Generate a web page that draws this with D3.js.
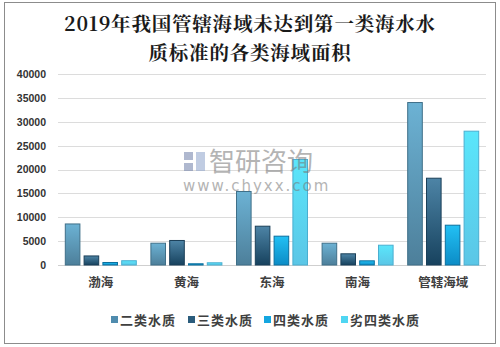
<!DOCTYPE html>
<html><head><meta charset="utf-8">
<script src="https://cdn.jsdelivr.net/npm/d3@7/dist/d3.min.js"></script>
<style>
body{margin:0;background:#fff;}
svg{display:block;font-family:"Noto Sans CJK SC","Noto Sans",sans-serif;}
</style></head>
<body><svg id="c" width="500" height="347"></svg>
<script>
const categories = ["渤海","黄海","东海","南海","管辖海域"];
const seriesNames = ["二类水质","三类水质","四类水质","劣四类水质"];
const s2 = [8700, 4670, 15500, 4670, 34130];
const s3 = [2000, 5240, 8230, 2450, 18280];
const s4 = [630, 360, 6140, 980, 8440];
const s5 = [1000, 570, 22200, 4250, 28130];
const yTicks = [0,5000,10000,15000,20000,25000,30000,35000,40000];
const titleLines = ["2019年我国管辖海域未达到第一类海水水","质标准的各类海域面积"];

const series = [s2,s3,s4,s5];
const colors = [
  {top:"#6cb2d4", bot:"#4d7f9a", stroke:"#3f6f88", legend:"#4f8cae"},
  {top:"#4d84a6", bot:"#17425e", stroke:"#1b3f58", legend:"#2b5c7c"},
  {top:"#22c0f4", bot:"#0c8cc6", stroke:"#0b6f9e", legend:"#14a6e0"},
  {top:"#5ae6fb", bot:"#5bc6e6", stroke:"#4aaed0", legend:"#4fd6f2"}
];

const svg = d3.select("#c");
const defs = svg.append("defs");
colors.forEach((c,i)=>{
  const g = defs.append("linearGradient").attr("id","g"+i).attr("x1",0).attr("y1",0).attr("x2",0).attr("y2",1);
  g.append("stop").attr("offset","0%").attr("stop-color",c.top);
  g.append("stop").attr("offset","100%").attr("stop-color",c.bot);
});

// border
svg.append("rect").attr("x",4.5).attr("y",2.5).attr("width",491).attr("height",341)
  .attr("fill","#fff").attr("stroke","#8c8c8c").attr("stroke-width",1);

// title
svg.append("g").selectAll("text").data(titleLines).join("text")
  .attr("x",250).attr("y",(d,i)=>31+i*29).attr("text-anchor","middle")
  .attr("font-size",19.5).attr("letter-spacing",0.8).attr("font-weight","bold").attr("fill","#1a1a1a")
  .attr("font-family","'Noto Serif CJK SC','Noto Sans CJK SC',serif")
  .text(d=>d);

const pL=58, pR=486, pT=74, pB=265;
const x = d3.scaleBand().domain(categories).range([pL,pR]);
const y = d3.scaleLinear().domain([0,40000]).range([pB,pT]);
const xs = d3.scaleBand().domain(d3.range(4)).range([0, 72]).paddingInner(0.17);

// gridlines
svg.append("g").selectAll("line").data(yTicks).join("line")
  .attr("x1",pL).attr("x2",pR).attr("y1",d=>Math.round(y(d))+0.5).attr("y2",d=>Math.round(y(d))+0.5)
  .attr("stroke",d=>d===0?"#cfcfcf":"#dcdcdc").attr("stroke-width",1);

// y axis
const yAxis = svg.append("g").attr("transform",`translate(${pL-12},0)`)
  .call(d3.axisLeft(y).tickValues(yTicks).tickSize(0).tickPadding(0).tickFormat(d3.format("d")));
yAxis.select(".domain").remove();
yAxis.selectAll("text").attr("font-size",10.5).attr("font-weight","bold").attr("fill","#333")
  .attr("font-family","'Liberation Sans',Arial,sans-serif");

// bars
const groups = svg.append("g").selectAll("g").data(categories).join("g")
  .attr("transform",d=>`translate(${x(d)+ (x.bandwidth()-72)/2},0)`);
groups.selectAll("rect").data((d,ci)=>series.map((s,si)=>({si, v:s[ci]}))).join("rect")
  .attr("x",d=>xs(d.si)+0.5).attr("width",xs.bandwidth()-1)
  .attr("y",d=>y(d.v)+0.5).attr("height",d=>Math.max(0,pB-y(d.v)-0.5))
  .attr("fill",d=>`url(#g${d.si})`).attr("stroke",d=>colors[d.si].stroke).attr("stroke-width",1);

// x axis labels
const xAxis = svg.append("g").attr("transform",`translate(0,${pB})`)
  .call(d3.axisBottom(x).tickSize(0).tickPadding(13));
xAxis.select(".domain").remove();
xAxis.selectAll("text").attr("font-size",12.5).attr("fill","#404040").attr("font-weight","bold")
  .attr("font-family","'Noto Sans CJK SC',sans-serif");

// watermark
const wm = svg.append("g").attr("opacity",0.55);
wm.append("rect").attr("x",184).attr("y",152).attr("width",9).attr("height",8).attr("fill","#6f7fa8");
wm.append("rect").attr("x",184).attr("y",163).attr("width",9).attr("height",8).attr("fill","#6f7fa8");
wm.append("rect").attr("x",196).attr("y",152).attr("width",9).attr("height",19).attr("fill","#8da3cc");
wm.append("text").attr("x",209).attr("y",171).attr("font-size",26).attr("fill","#777").text("智研咨询");
wm.append("text").attr("x",183).attr("y",191).attr("font-size",15).attr("letter-spacing",2).attr("fill","#777")
  .attr("font-family","'DejaVu Sans',sans-serif").text("www.chyxx.com");

// legend
const legendX = [111, 188, 264, 341];
const lg = svg.append("g").selectAll("g").data(seriesNames).join("g")
  .attr("transform",(d,i)=>`translate(${legendX[i]},320)`);
lg.append("rect").attr("x",0).attr("y",-4).attr("width",7).attr("height",7)
  .attr("fill",(d,i)=>colors[i].legend);
lg.append("text").attr("x",9).attr("y",5).attr("font-size",13).attr("letter-spacing",1)
  .attr("font-weight","bold").attr("fill","#404040").text(d=>d);
</script></body></html>
